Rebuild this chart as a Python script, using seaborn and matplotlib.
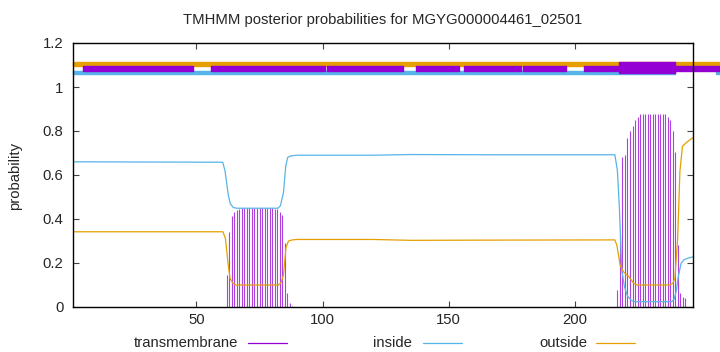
import numpy as np
import pandas as pd
import seaborn as sns
import matplotlib.pyplot as plt
from matplotlib.lines import Line2D

sns.set_theme(style='white')
plt.rcParams['font.family'] = ['Liberation Sans', 'DejaVu Sans']

TM_COLOR = '#9400d3'
IN_COLOR = '#56b4e9'
OUT_COLOR = '#e69f00'
FS = 10.7

title = "TMHMM posterior probabilities for MGYG000004461_02501"
seq_len = 247

# transmembrane posterior, drawn as impulses (only residues with visible height)
tm_pos = list(range(62, 89)) + list(range(217, 245))
tm_prob = [0.145, 0.342, 0.415, 0.433, 0.442, 0.446, 0.448, 0.449,
           0.45, 0.45, 0.45, 0.45, 0.45, 0.45, 0.45, 0.45, 0.45,
           0.449, 0.448, 0.447, 0.445, 0.433, 0.418, 0.29, 0.062, 0.02, 0.005,
           0.077, 0.32, 0.683, 0.69, 0.767, 0.80, 0.824, 0.85, 0.865, 0.876,
           0.878, 0.878, 0.878, 0.878, 0.878, 0.878, 0.878, 0.878, 0.878, 0.878,
           0.865, 0.85, 0.80, 0.706, 0.28, 0.062, 0.047, 0.04]

# inside posterior (line vertices)
in_pos = [1, 60.4, 61.3, 62.6, 63.4, 64.6, 66, 82.3, 83.3, 84.5, 85.4, 86.2,
          87.5, 90, 120, 135, 165, 216, 217, 217.8, 218.7, 219.8, 221, 222.5,
          224, 238.5, 239.5, 240.3, 241.2, 242.3, 243.5, 245, 247]
in_prob = [0.66, 0.658, 0.62, 0.51, 0.47, 0.452, 0.449, 0.449, 0.46, 0.52, 0.64, 0.68,
           0.687, 0.69, 0.69, 0.693, 0.692, 0.692, 0.62, 0.45, 0.17, 0.092, 0.05, 0.03,
           0.024, 0.024, 0.035, 0.07, 0.14, 0.2, 0.215, 0.222, 0.228]

# outside posterior
out_pos = [1, 60.5, 61.5, 62.5, 63.3, 64.3, 65.5, 82.5, 83.5, 84.5, 85.5, 86.5,
           88, 90, 120, 135, 165, 216, 216.8, 218.1, 219.4, 221.4, 222.5, 223.5,
           224.8, 237.7, 239, 239.8, 240.9, 241.8, 242.8, 244.6, 247]
out_prob = [0.342, 0.342, 0.31, 0.2, 0.13, 0.11, 0.10, 0.10, 0.11, 0.145, 0.27, 0.30,
            0.305, 0.307, 0.307, 0.303, 0.304, 0.305, 0.28, 0.19, 0.16, 0.14, 0.123, 0.108,
            0.10, 0.10, 0.108, 0.13, 0.31, 0.615, 0.73, 0.75, 0.77]

# topology strip above the curves: (start, end) residue ranges
strip_out = [(1, 257.7)]
strip_in = [(1, 239.9), (256, 257.7)]
strip_tm = [(5.0, 48.6), (55.6, 101.0), (101.8, 132.0), (137.1, 154.2),
            (156.2, 178.7), (179.5, 196.6), (203.8, 257.7)]
strip_tm_tall = [(217.7, 239.9)]


def spans(ranges):
    # broken_barh wants (start, width)
    return [(a, b - a) for a, b in ranges]


curves = pd.concat([
    pd.DataFrame({'residue': in_pos, 'prob': in_prob, 'state': 'inside'}),
    pd.DataFrame({'residue': out_pos, 'prob': out_prob, 'state': 'outside'}),
])

fig = plt.figure(figsize=(7.2, 3.52), dpi=100)
fig.patch.set_facecolor('white')
ax = fig.add_axes([73 / 720, 1 - 307 / 352, 620 / 720, 264 / 352])

ax.vlines(tm_pos, 0, tm_prob, color=TM_COLOR, lw=0.8, alpha=0.75, zorder=2)
sns.lineplot(data=curves, x='residue', y='prob', hue='state',
             palette={'inside': IN_COLOR, 'outside': OUT_COLOR},
             linewidth=0.9, legend=False, ax=ax, zorder=3)

ax.broken_barh(spans(strip_out), (1.0955, 0.0181), color=OUT_COLOR, clip_on=False, zorder=1)
ax.broken_barh(spans(strip_in), (1.059, 0.0137), color=IN_COLOR, clip_on=False, zorder=1)
ax.broken_barh(spans(strip_tm), (1.0727, 0.0228), color=TM_COLOR, clip_on=False, zorder=1.2)
ax.broken_barh(spans(strip_tm_tall), (1.062, 0.05), color=TM_COLOR, clip_on=False, zorder=1.3)

ax.set_xlim(1, seq_len)
ax.set_ylim(0, 1.2)
ax.set_xticks([50, 100, 150, 200])
ax.set_yticks(np.arange(0, 1.21, 0.2))
ax.set_yticklabels(['0', '0.2', '0.4', '0.6', '0.8', '1', '1.2'])
ax.set_xlabel('')
ax.set_ylabel('')
ax.tick_params(direction='in', length=4, width=0.8, color='#444444',
               top=True, right=True, bottom=True, left=True, labelsize=FS)
ax.tick_params(axis='x', pad=4.5)
ax.tick_params(axis='y', pad=7)
for s in ax.spines.values():
    s.set_color('black')
    s.set_linewidth(1.0)
    s.set_zorder(4)

fig.text(383 / 720, 1 - 20 / 352, title, ha='center', va='center', fontsize=FS)
fig.text(15 / 720, 1 - 176 / 352, 'probability', rotation=90,
         ha='center', va='center', fontsize=FS)

# legend below the plot, gnuplot style: label then sample line
leg_y = 1 - 343 / 352
for label, color, x_text, x_line in [('transmembrane', TM_COLOR, 238, 248),
                                      ('inside', IN_COLOR, 412, 423),
                                      ('outside', OUT_COLOR, 587, 596)]:
    fig.text(x_text / 720, leg_y, label, ha='right', va='center', fontsize=FS)
    fig.add_artist(Line2D([x_line / 720, (x_line + 39) / 720], [leg_y, leg_y],
                          color=color, lw=0.9))

fig.savefig('out.png', dpi=100)
